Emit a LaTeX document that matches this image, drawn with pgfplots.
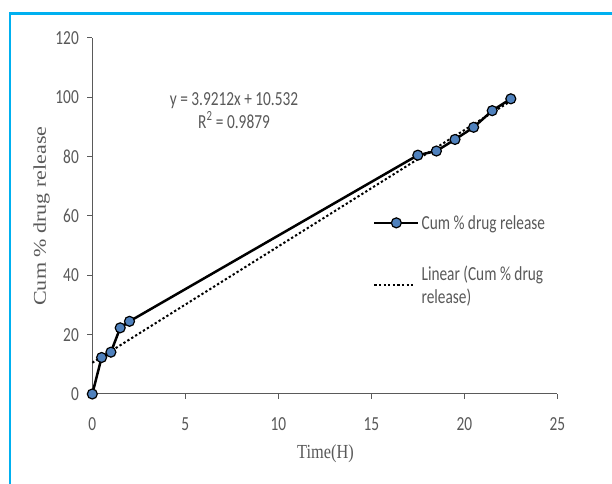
\documentclass[border=0pt]{standalone}
\usepackage{pgfplots}
\pgfplotsset{compat=1.18}
\usepackage{fontspec}
\setmainfont{Liberation Serif}
\newfontfamily\calf{Carlito}[FakeStretch=0.77]
\newfontfamily\serX{Liberation Serif}[FakeStretch=0.82]
\newfontfamily\serY{Liberation Serif}[FakeStretch=1.23]
\definecolor{frame}{HTML}{00B0F0}
\definecolor{txt}{HTML}{595959}
\definecolor{ax}{HTML}{5A5A5A}
\definecolor{mk}{HTML}{4F81BD}
\pgfplotsset{
  legA/.style={legend image code/.code={\draw[##1, mark repeat=2, mark phase=2] plot coordinates {(0bp,0bp) (22bp,0bp) (44bp,0bp)};}},
  legB/.style={legend image code/.code={\draw[##1] (0bp,0bp) -- (41bp,0bp);}},
}
\begin{document}
\begin{tikzpicture}[x=1bp,y=1bp]
\useasboundingbox (0,0) rectangle (612,484);
\fill[white] (0,0) rectangle (612,484);
\draw[frame, line width=2.5bp] (10,-5) -- (10,470.5) -- (620,470.5);
\begin{axis}[at={(92.3bp,90bp)}, anchor=south west, scale only axis,
  width=465bp, height=356bp,
  xmin=0, xmax=25, ymin=0, ymax=120,
  xtick={0,5,...,25}, ytick={0,20,...,120},
  axis x line*=bottom, axis y line*=left,
  tick align=outside, major tick length=5bp,
  tick style={ax, line width=1bp},
  axis line style={ax, line width=1bp},
  clip=false,
  /pgf/number format/assume math mode=true,
  ticklabel style={font=\calf\fontsize{20}{20}\selectfont, text=txt},
  xticklabel style={yshift=-15bp},
  yticklabel style={xshift=-5bp},
  xlabel={Time(H)},
  ylabel={Cum \% drug release},
  xlabel style={font=\serX\fontsize{20}{20}\selectfont, text=txt, at={(axis description cs:0.5015,-0.168)}, anchor=center},
  ylabel style={font=\serY\fontsize{18}{18}\selectfont, text=txt, at={(axis description cs:-0.109,0.5)}, anchor=center},
  legend cell align=left,
  legend style={draw=none, fill=none, at={(0.597,0.514)}, anchor=north west,
    font=\calf\fontsize{20}{24}\selectfont, text=txt, row sep=31bp,
    nodes={align=left}},
]
\addplot[black, line width=2.5bp, mark=*, mark size=5bp,
  mark options={fill=mk, draw=black, line width=1.2bp}, legA]
  coordinates {(0,0) (0.5,12.3) (1,14.1) (1.5,22.3) (2,24.5) (17.5,80.5) (18.5,81.9) (19.5,85.8) (20.5,89.9) (21.5,95.5) (22.5,99.5)};
\addlegendentry{Cum \% drug release}
\addplot[black, line width=2bp, dash pattern=on 2.3bp off 2.3bp, legB]
  coordinates {(0,10.532) (22.5,98.759)};
\addlegendentry{Linear (Cum \% drug\\release)}
\node[font=\calf\fontsize{20}{22.7}\selectfont, text=txt, align=center] at (axis cs:7.62,95.6)
  {y = 3.9212x + 10.532\\R\textsuperscript{2} = 0.9879};
\end{axis}
\end{tikzpicture}
\end{document}
